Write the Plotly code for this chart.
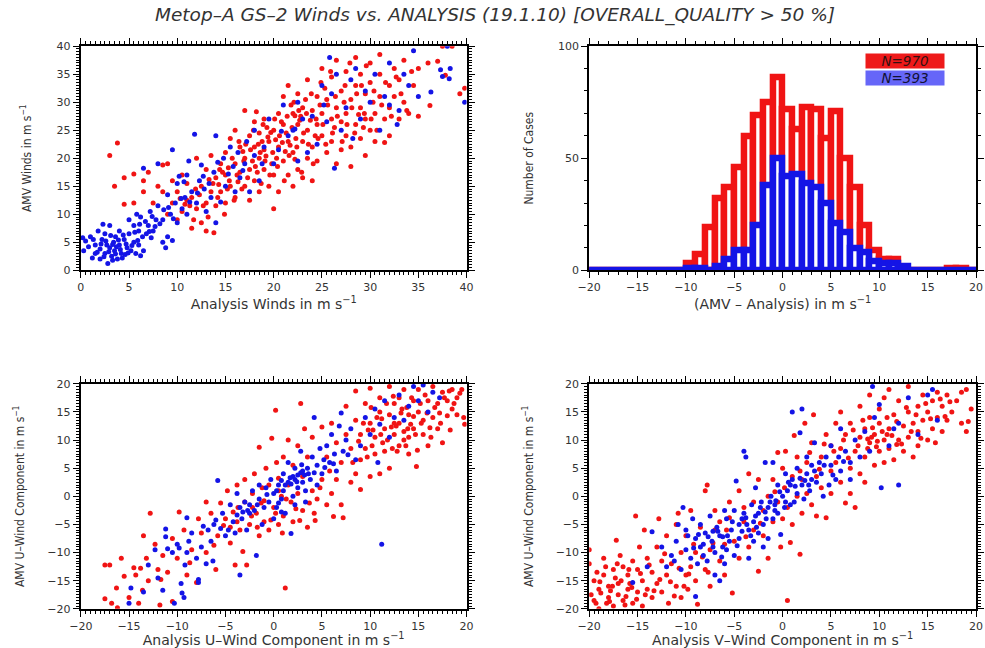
import numpy as np
import plotly.graph_objects as go

TITLE = "Metop–A GS–2 Winds vs. ANALYSIS (19.1.10) [OVERALL_QUALITY > 50 %]"

# ---------------- Panel 1: wind speed scatter ----------------
spd_blue = [(0.2,5.8),(0.3,3.5),(0.5,5.2),(1,6),(1.2,2.2),(1.5,4.5),(1.8,7),(2,3.8),(2.2,5.5),(2.5,3),(2.5,6.5),(2.8,1.2),
(3,4),(3,8),(3.2,2.5),(3.4,5),(3.5,3.5),(3.6,6),(3.8,2),(4,4.5),(4,7),(4.2,3),(4.5,5.5),(4.6,2.8),(4.8,4),(5,6.5),(5,9),
(5.2,3.5),(5.5,5),(5.5,8),(5.8,10),(6,4.5),(6,7),(6.2,9.5),(6.5,3.5),(6.5,18.2),(6.8,6.5),(7,8),(7.2,10.5),(7.5,7),(7.8,9),
(8,19),(8,11.5),(8.5,5),(8.5,9),(8.8,4),(9,13.5),(9,6),(9.3,10),(9.5,5.3),(9.5,21.5),(9.8,12),(10,15.5),(10,8.5),(10.2,16.8),
(10.5,11),(10.8,13),(11,17),(11,10),(11.2,19.5),(11.5,14),(11.8,24.3),(12,12),(12.3,16),(12.5,18.8),(12.8,14.5),(13,10.5),
(13.5,13),(13.8,17.5),(14,8.5),(14,24),(14.5,12.2),(14.8,20),(15,15),(15.5,22),(15.8,18.5),(16,14),(16.3,21),(16.5,16.5),
(17,19),(17.2,23),(17.5,14),(18,20.5),(18,25),(18.5,16),(19,22),(19.5,27),(20,19),(20.5,21.5),(21,29.5),(21.5,24),(22,25),
(22.5,19.5),(22.5,30),(23,27),(23.5,21),(24,27.5),(24.5,22.5),(25,33),(25.2,29.5),(25.5,26.5),(25.8,38),(26,31.5),(26.3,18.2),
(26.5,35),(27,25),(27.5,29),(28,34),(28.2,23.5),(28.5,36),(29,27),(29.5,32),(30,30),(30.5,35),(31,25),(31.5,31),(32,37),
(32,29.5),(32.8,26),(33,28.5),(33.5,35),(34,33),(34.5,39.2),(35,31),(36.3,31.8),(37.3,35.8),(37.5,34.6),(38,40),(38.2,34.2),
(38.3,36),(39.8,30),(1.5,3),(2,2),(2.7,4.5),(3.3,1.8),(3.7,4.2),(4.3,2.2),(5.7,3),(6.2,2.6),(2.3,8.2),(7.3,5.8),
(0.8,4.2),(1.3,5.5),(1.7,3.2),(2.1,4.7),(2.4,2.4),(2.6,5.2),(2.9,3.3),(3.1,6.2),(3.3,4.6),(3.6,2.9),(3.9,5.4),(4.1,3.7),
(4.4,6.3),(4.7,4.7),(4.9,3.1),(5.3,4.4),(5.6,6.8),(5.9,5.3),(6.1,8.2),(6.4,6),(6.7,8.7),(7.1,6.9),(7.4,9.6),(7.7,7.8),
(8.2,8.3),(8.6,10.8),(9.1,11.2),(9.6,9.2),(10.4,12.8),(10.7,15.8),(11.3,12.2),(12.1,13.8),(12.7,16.8),(13.3,15.5),
(14.2,19.3),(15.3,17.2),(16.8,17.8),(18.8,19),(20.8,24.8),(22.2,25.2)]
spd_red = [(3,20.5),(3.8,22.7),(3.5,15),(4.5,11.8),(4.5,16.5),(5.5,12),(5.5,17.2),(6.5,14),(6.5,16),(7,17.5),(7.5,12),(8,15),
(8.5,18.8),(8.5,14),(9,19),(9,10),(9.5,16),(9.5,12),(10,9),(10,14),(10.5,17),(10.5,10.5),(11,12.5),(11,15.5),(11.5,13),
(11.5,7.5),(12,20),(12,11),(12.5,8.5),(12.5,15),(13,18),(13,12),(13,7),(13.5,14),(13.5,20.5),(13.8,6.7),(14,16.5),(14,11.5),
(14.5,19),(14.5,14),(15,21),(15,17),(15,12),(15.5,23.5),(15.5,15),(16,19),(16,13),(16,25),(16.5,17.5),(16.5,22),(17,28.5),
(17,15),(17,20),(17.5,24),(17.5,18),(17.5,12.5),(18,22),(18,16),(18,26.5),(18.5,20),(18.5,14),(18.5,24.5),(19,18),(19,27),
(19,21.5),(19.5,15),(19.5,23),(20,25),(20,17),(20,11),(20.5,22),(20.5,28),(20.5,14),(21,26),(21,19.5),(21,31),(21.5,23),
(21.5,17),(21.5,33),(22,28),(22,21),(22,15),(22.5,26),(22.5,18),(22.5,31.5),(23,23),(23,29),(23,16.5),(23.5,25),(23.5,20),
(23.5,34),(24,28.5),(24,22),(24,16),(24.5,31),(24.5,26),(24.5,19.5),(25,24),(25,28),(25,36),(25.5,21),(25.5,30.5),(26,27),
(26,23),(26,34.5),(26.5,19),(26.5,29),(26.5,37.5),(27,26.5),(27,32),(27,21.5),(27.5,24),(27.5,35.5),(27.5,28),(28,30.5),
(28,22),(28,18.5),(28.5,26),(28.5,33),(28.5,38),(29,29),(29,23.5),(29,35),(29.5,27),(29.5,20.5),(29.5,31.5),(30,25),
(30,33.5),(30,37),(30.5,28),(30.5,23),(31,31),(31,35),(31,38.5),(31.5,27),(31.5,22.8),(32,33),(32,29),(32,24),(32.5,36),
(32.5,31),(33,27),(33,34),(33.5,37.5),(33.5,30),(34,28),(34.5,33),(35,36),(35,27.5),(36,37),(36.2,29.4),(37,37.3),
(37.8,34.8),(39.3,31.5),(39.8,32.5),(37.5,40),(38.5,40),(16.8,21.2),(17.8,19.5),(18.8,23),(19.3,25.5),(20.3,20),(21.3,24.5),
(22.3,23.5),(22.8,27.5),(23.3,30.5),(24.3,24),(19.8,19),(20.8,26.5),(21.8,29.5),(18.3,17.5),(16.3,15.8),(15.3,18.3),
(14.3,15.3),(13.3,16.2),(12.3,13.5),(11.3,11.5),(10.3,12.8),(26.3,25.5),(27.3,30),(28.8,27.8),(30.3,30),(29.3,25.5),
(25.3,32.5),(24.8,29.5),(23.8,26.8),(22.2,19.8),(21.2,21.2),(20.2,23.3),(19.2,20.4),(18.2,28.3),
(13.2,9.5),(13.7,15.5),(14.2,13),(14.7,17.5),(14.9,10),(15.2,14.5),(15.7,20),(15.9,12.5),(16.2,17),(16.4,23),(16.7,14.5),
(16.9,19.5),(17.3,16.5),(17.6,21.5),(17.9,25),(18.1,18.5),(18.4,22.5),(18.7,15.5),(18.9,26),(19.1,19.5),(19.4,23.8),
(19.6,17),(19.9,21),(20.1,27),(20.4,18.5),(20.6,24),(20.9,22.8),(21.1,16),(21.4,27.5),(21.6,20.5),(21.9,25.5),(22.1,30),
(22.4,22),(22.6,28.5),(22.9,17.5),(23.1,24.5),(23.4,28),(23.6,22.5),(23.9,31.5),(24.1,19),(24.4,27),(24.6,23.5),
(24.9,33.5),(25.1,26),(25.4,22.5),(25.6,29.5),(25.9,35.5),(26.1,24.5),(26.4,31),(26.6,27.5),(27.1,23),(27.4,33),(27.6,26),
(27.9,37),(28.1,29),(28.4,24.5),(28.6,31.5),(29.1,33),(29.4,28),(29.6,36.5),(30.1,27),(30.4,32),(30.7,25),(31.2,29.5),
(31.6,33.5),(32.2,27.5),(32.7,34.5),(33.2,31.5),(33.8,28.5),(34.3,35.5),(22.7,26.8),(22.2,27.6),(21.7,22.3),(19.7,24.6),
(18.6,21),(17.1,22.5),(15.4,16),(14.4,18),(12.7,11.5),(11.7,9),(11.9,14.5),(10.8,11.8)]

# ---------------- Panel 2: histogram of (AMV - Analysis) ----------------
bin_left = list(range(-20, 20))
red_counts = [0]*10 + [3,7,19,32,37,46,60,69,75,86,72,63,73,72,59,71,50,37,20,9,5,5,0,0,0,0,0,1,1,0]
blue_counts = [0]*10 + [1,1,0,2,5,9,9,20,38,50,42,43,39,37,30,21,17,10,8,4,3,3,2,0,0,0,0,0,0,0]
red_label = "N=970"
blue_label = "N=393"

# ---------------- Panel 3: U component ----------------
u_blue = [(-15,-19),(-14.8,-16.3),(-13.5,-17),(-13,-12.2),(-12.3,-9.5),(-12,-14.5),(-11.5,-16.7),(-11.2,-5.8),(-11.2,-7.2),
(-11,-9.3),(-10.5,-10),(-10.3,-19),(-10,-8.5),(-9.6,-15.5),(-9.5,-17.2),(-9.3,-18),(-9.2,-12.2),(-9,-3.8),(-9,-10),(-8.8,-8),
(-8.5,-6.5),(-8,-11),(-7.8,-14.8),(-7.8,-15.3),(-7.5,-9),(-7.3,-5.3),(-7,-12),(-6.8,-6),(-6.5,-8),(-6.3,-11.5),(-6,-4.2),
(-5.8,2.8),(-5.5,-5.7),(-5.3,-3),(-5,-7),(-4.5,-1.5),(-4.2,-4.5),(-4,-6.5),(-3.8,0.5),(-3.5,-2),(-3.5,-14),(-3.3,-4),(-3,-1),
(-2.8,-6),(-2.5,-3),(-2.2,1),(-2,-2.5),(-1.8,-10.5),(-1.5,-0.5),(-1.5,2),(-1.2,-5),(-1,-2),(-0.8,1.5),(-0.5,-1),(-0.3,3),
(0,0.5),(0,-4),(0.3,-2),(0.5,2),(0.8,-0.5),(1,4),(1,1),(1.2,-3),(1.5,2.5),(1.5,6),(1.8,-6.6),(2,3.5),(2,0),(2.2,5),(2.5,3.8),
(2.5,1.5),(2.8,8),(3,4.5),(3,2.5),(3.3,-1),(3.5,5),(3.8,3),(4,7),(4.2,14),(4.5,5.5),(4.5,2),(4.8,8.5),(5,4),(5.2,6.5),(5.5,9),
(5.8,6),(6,11),(6.3,7.5),(6.5,4.5),(6.8,12.5),(7,14.8),(7.2,8),(7.5,10),(8,12),(8.5,6.5),(9,9),(9.5,14),(10,11),(10.5,15.5),
(10.8,6),(11,12.8),(11.2,-8.5),(11.5,17),(12,10.5),(12.5,14),(13,18),(13.5,13.5),(14,16),(14.5,19.5),(15,17),(15.5,19.8),
(16,15),(16.5,18.5),(17.2,17.5),(2.2,3),(2.8,4.2),(1.8,2.2),(3.2,3.8),(0.5,-1.2),(-2.5,-1.5),(-3.2,-2.8),(0.8,2.8),
(1.2,2),(2.4,2.6),(3.6,4),(2.9,5.6),(1.7,3.3),(0.3,1),(-0.7,0.3),(-1.7,-1.5),(-2.7,-2.5),(-3.8,-3.3),(4.2,4.2),(5.3,5.1),
(6.2,5.8),(7.7,7.4),(3.3,1),(-4.7,-6),(-6.2,-5),(-9.8,-9.2),(2.2,-1.5),(0.8,-2.8)]
u_red = [(-17.5,-12.2),(-17.5,-18.2),(-17,-12.2),(-16.8,-19),(-16.3,-16.3),(-16.2,-19.8),(-15.8,-11),(-15,-18),(-14.5,-12.7),
(-14.3,-14),(-14,-19),(-13.8,-12.8),(-13.5,-7),(-13.2,-11),(-13,-15),(-12.8,-3),(-12.3,-8.5),(-12,-13),(-11.8,-19.3),
(-11.5,-10.5),(-11,-13.5),(-10.5,-7.5),(-10.5,-18.7),(-10,-11),(-9.8,-2.8),(-9.3,-6),(-9,-14),(-8.5,-9.5),(-8,-15.3),
(-7.8,-4),(-7.5,-6.5),(-7,-1),(-7,-10),(-6.5,-3),(-6,-13),(-5.8,-7),(-5.5,-1.2),(-5,-4),(-4.8,1),(-4.5,-8.3),(-4.5,-5.5),
(-4.2,-2.8),(-4,-12.2),(-3.8,2),(-3.5,-6),(-3.2,-9.8),(-3,3),(-3,-1),(-2.8,-12.2),(-2.5,-5),(-2.2,0.5),(-2,4),(-1.8,-3),
(-1.5,8.7),(-1.5,-7),(-1.2,1.5),(-1,-4.5),(-0.8,5),(-0.5,2),(-0.5,-6),(-0.2,10.3),(0,-2),(0.2,15.3),(0.3,6),(0.5,-5),
(0.5,3.2),(0.8,0),(1,7),(1,-3.5),(1.2,-16.3),(1.5,2),(1.5,10),(1.8,-1),(2,-4.5),(2,5.5),(2.5,9),(2.5,0.5),(2.8,16.5),
(3,-2.5),(3,3.5),(3.2,12),(3.5,-5.5),(3.5,7),(4,1),(4,10.5),(4.2,-3),(4.5,-0.5),(5,12.3),(5,3),(5.5,-1.5),(5.5,7),(6,0.5),
(6,13),(6.2,-3.6),(6.5,3),(6.5,9.5),(7,-1.5),(7,6),(7.2,-3.8),(7.5,11),(7.5,16),(8,2.5),(8,8.5),(8.5,4),(8.5,13.5),
(8.5,18.7),(9,1.2),(9,6.5),(9,11),(9.5,16.5),(9.5,8.5),(10,3.5),(10,13),(10,19.2),(10.5,7.5),(10.5,10.5),(11,15),(11,4),
(11,17.5),(11.5,8),(11.5,12),(12,14.5),(12,19.5),(12,5),(12.5,11),(12.5,16.5),(13,9),(13,13),(13,17.5),(13.5,11.5),
(13.5,19),(14,14.5),(14,7.5),(14,10.5),(14.5,12),(14.5,17),(14.8,5.3),(15,15),(15,19),(15.5,11),(15.5,13.5),(16,17),(16,9),
(16.5,14),(16.5,19.5),(17,12),(17,16.5),(17.5,9.5),(17.5,18.5),(18,14.3),(18,17),(18.5,19),(18.5,15.5),(19,14.5),(19,17.5),
(19.5,19),(19.8,12.8),(12.2,12.3),(13.2,14.8),(14.2,12.8),(11.8,10),(12.8,8),(13.8,15.8),(15.2,16.5),(10.2,9),(11.2,13.8),
(9.8,11.8),(12.5,13),(13.5,10),(14.5,14.2),(16.2,12.2),(17.2,14.8),(18.2,18.7),(-3.8,-4.5),(-2.2,-2),(-1,-0.8),(0.5,1),
(8.2,6),(8.8,9.8),(9.3,13),(9.7,7),(10.3,11.8),(10.7,14),(11.3,9.5),(11.7,16.5),(12.3,8.5),(12.7,12.5),(13.3,15.5),(13.7,9),
(14.3,17.5),(14.7,11),(15.3,13),(15.7,18),(16.3,10.5),(16.7,15.8),(17.3,13),(17.7,17.5),(18.3,11.8),(18.7,16.5),(19.3,18.3),
(19.7,14),(12.4,17.8),(13.9,12),(15.9,14.8),(11.1,11),(10.1,15.8),(14.9,8.2),(-2.3,-3.5),(-1.3,-1.2),(0.2,-3),(1.3,-0.5),
(2.3,-2.2),(3.7,-1.2),(4.8,1.5),(5.8,4.5),(-3.7,-2),(-5.2,-5.2),(-6.2,-8.7),(-8.7,-11.8),(-11.7,-14.8),(-13.6,-16.7),
(-15.5,-14.2),(0.9,-6.5),(2.7,-4.3),(4.3,-4.3),(-0.3,-4.2),(-1.7,-5.5)]

# ---------------- Panel 4: V component ----------------
v_blue = [(-15.5,-15.3),(-14,-12.5),(-13.5,-6.3),(-12,-12.5),(-11.5,-10.5),(-11,-8),(-10.5,-13),(-10.3,-2),(-10,-6),(-10,-9.5),
(-9.5,-11),(-9.3,-4),(-9,-7.5),(-9,-17.8),(-8.8,-12),(-8.5,-5),(-8.5,-9),(-8,-6.5),(-7.8,-11.5),(-7.5,-3.5),(-7.3,-8),
(-7,-10),(-7,-14),(-6.8,-5.5),(-6.5,-7),(-6.5,-15),(-6.2,-9),(-6,-2.5),(-6,-12),(-5.8,-4),(-5.5,-8),(-5.3,-6),(-5,-2.5),
(-5,-10.5),(-4.8,2.7),(-4.5,-5),(-4.5,-7.5),(-4,-3),(-4,8),(-3.8,7),(-3.5,-6),(-3.5,-11),(-3.2,-1.5),(-3,-4.5),(-3,-8),
(-2.8,1.5),(-2.5,-3),(-2.5,-6.5),(-2.2,-1),(-2,-5),(-2,-9),(-1.8,6),(-1.5,-2),(-1.5,-7.5),(-1.2,0),(-1,-4),(-1,6),(-0.8,-1.5),
(-0.5,2),(-0.5,-3),(-0.2,-6.8),(0,0),(0.2,-2),(0.3,4),(0.5,1),(0.8,-1.5),(1,3),(1,15),(1.2,-1),(1.5,5),(1.5,0.5),(1.8,11.3),
(2,2),(2,15.5),(2.2,-0.5),(2.5,4),(2.5,7),(2.8,1),(3,3),(3,5.5),(3.3,9.5),(3.5,2.5),(3.8,6),(4,4),(4.2,0),(4.5,7),(4.8,2),
(5,5.5),(5,9),(5.5,3),(5.8,7),(6,4.5),(6,12),(6.5,8),(7,6),(7,3),(7.5,10),(8,7),(8.5,11.5),(9,8),(9.3,19.5),(9.5,14),
(10,16.3),(10.2,1.5),(11,9),(11.5,12),(12,2),(12,13),(13,17.5),(14,11),(15,18),(15.5,19),(16,13.5),(-8.2,-8.5),(-7.2,-6.2),
(-6.2,-7.2),(-5.8,-9.5),(-4.2,-4),(-3.7,-5),(-2.8,-3.5),(-1.8,-2.8),(-0.7,-0.8),(0.6,2.5),(1.3,1.8),(2.3,2.8),
(-9.8,-7),(-9.2,-9.2),(-8.7,-6.8),(-8.2,-10.5),(-7.7,-7.2),(-7.2,-9),(-6.7,-6.2),(-6.3,-10.8),(-5.7,-7),(-5.2,-4.5),
(-4.7,-8.8),(-4.2,-6.2),(-3.8,-3.8),(-3.3,-7),(-2.7,-5.5),(-2.3,-2),(-1.7,-4),(-1.3,-1),(-0.8,-2.5),(-0.3,0.8),(0.3,-1),
(0.8,2),(1.8,3.2),(2.7,2),(3.3,4.5),(4.3,5.5),(5.2,3.8),(6.3,6.2),(-11.2,-11.5),(-12.5,-9),(-10.8,-5)]
v_red = [(-20,-9.5),(-20,-12),(-19.5,-15),(-19.5,-18.5),(-19,-16.5),(-19,-20),(-18.5,-14),(-18.5,-11),(-18,-18),(-18,-16),
(-17.5,-13),(-17.5,-19.5),(-17.2,-7.8),(-17,-15.5),(-17,-17.5),(-16.8,-10.5),(-16.5,-12.5),(-16.5,-18.5),(-16,-14),
(-16,-16.5),(-15.5,-19),(-15.5,-11.5),(-15.2,-3.5),(-15,-13),(-15,-17),(-14.8,-9),(-14.5,-15),(-14.5,-19.5),(-14.3,-6),
(-14,-11),(-14,-16.5),(-13.5,-13.5),(-13.5,-18),(-13,-9),(-13,-15.5),(-12.8,-4),(-12.5,-11.5),(-12.5,-17),(-12,-7),(-12,-14),
(-11.8,-19),(-11.5,-12),(-11,-5),(-11,-16),(-10.8,-3),(-10.5,-10),(-10.5,-18),(-10,-14),(-10,-7),(-9.8,-16.5),(-9.5,-2.5),
(-9.5,-12.5),(-9,-10),(-9,-15),(-8.8,-19.2),(-8.5,-5.5),(-8,-13),(-8,1),(-7.8,2),(-7.5,-16),(-7.5,-9.5),(-7,-2.5),(-7,-6),
(-6.5,-11.5),(-6.5,-4.5),(-6,-8.5),(-6,-14),(-5.5,-1),(-5.5,-3.8),(-5.2,-17.2),(-5,-8),(-4.5,1),(-4.5,-11),(-4,-2),(-4,-4.5),
(-3.5,4),(-3.5,-9),(-3,-1),(-3,-6),(-2.5,3),(-2.5,-13.3),(-2,-2.5),(-2,-7),(-1.5,0),(-1.5,-11),(-1,-4.5),(-1,3),(-0.5,7.8),
(-0.5,-1),(-0.2,-9),(0,-4),(0,5),(0.2,1.5),(0.5,-2),(0.5,-18.5),(0.8,-8.2),(1,3.5),(1,-5),(1.2,10.8),(1.5,0),(1.5,7),
(1.8,-10.3),(2,3),(2,-3),(2.3,13),(2.5,6),(2.5,0.5),(3,9.5),(3,-1.5),(3.2,14.5),(3.5,3.5),(3.5,-3.5),(4,7),(4,1.5),(4.5,11),
(4.5,-3.8),(5,4.5),(5,9),(5,0.5),(5.5,13),(5.5,6),(6,15),(6,2.5),(6,8.5),(6.5,11),(6.5,-1.2),(7,5),(7,13),(7,0.5),(7.5,8),
(7.5,-2),(8,10.5),(8,16),(8,4),(8.5,12),(8.5,7),(8.5,2.5),(9,9.5),(9,14),(9,18),(9.5,5.5),(9.5,11),(10,8),(10,13),(10,15.5),
(10.5,10),(10.5,6),(10.5,17.5),(11,12),(11,8.5),(11,19),(11.5,14.5),(11.5,6.5),(12,10),(12,17),(12.5,12.5),(12.5,8),(13,15),
(13,19.5),(13,10.5),(13.5,7),(13.5,13),(14,16),(14,9),(14,11.5),(14.5,18),(14.5,13.5),(15,10),(15,15),(15.5,12),(15.5,17),
(16,14),(16,18.5),(16.5,16),(16.5,11.5),(17,13.5),(17,18),(17.5,15),(18,17),(18.5,13),(18.5,18.5),(19,19),(19,11.5),
(19.5,15.5),(19.2,13.3),(-18.8,-17.2),(-17.8,-16.8),(-16.2,-17.8),(-15.8,-15.5),(-17.3,-14.5),(-18.2,-19),(-19.2,-13.5),
(9.2,10.5),(9.8,9.8),(10.8,11),(8.8,8.5),(11.8,9.2),
(-19.8,-17.5),(-19.3,-19),(-18.9,-15.2),(-18.3,-12.5),(-17.9,-18.7),(-17.6,-16),(-17.1,-12),(-16.7,-15),(-16.3,-19.3),
(-15.9,-13),(-15.6,-16.2),(-15.1,-18.3),(-14.7,-13.7),(-14.2,-17.5),(-13.8,-12.2),(-13.3,-16.8),(-12.7,-14.8),(-12.2,-10.2),
(-11.6,-15.2),(-11.2,-17.7),(-10.7,-12.8),(-10.2,-16),(-9.7,-13.8),(-9.2,-8.5),(-8.3,-10.8),(-7.7,-13.5),(5.3,8),(6.3,10),
(6.8,6.8),(7.3,11.8),(7.8,9),(8.3,13.5),(8.8,10.2),(9.3,12.2),(9.7,8.8),(10.3,11.5),(10.8,14),(11.3,10.8),(11.8,13.3),
(12.3,9.3),(12.8,15.8),(13.3,11.5),(13.8,14.5),(14.3,10.3),(14.8,16.5),(15.3,13.8),(15.8,9.5),(16.3,17.3),(16.8,14.2),
(17.3,16.8),(3.8,4.8),(4.3,9.3),(2.8,7.8),(1.8,4.5),(0.3,8),(-0.8,0.8),(-2.3,-4.8),(-3.8,-7.2),(-5.8,-6),(-7.2,-8.3)]

RED = "#f01414"
BLUE = "#1414e6"
TXT = "#333333"
WIDE = "DejaVu Sans, Verdana, sans-serif"
NARROW = "Liberation Sans Narrow, DejaVu Sans Condensed, Arial Narrow, sans-serif"
TICKFONT = dict(family=WIDE, size=11, color=TXT)
XTITLEFONT = dict(family=WIDE, size=14, color=TXT)
YTITLEFONT = dict(family=NARROW, size=12, color=TXT)
W, H = 985, 648
# observed rendering offset of the plotting area inside the page
OFF = 8
SW, SH = W - 2 * OFF, H - 2 * OFF

def px(x):
    return (x - OFF) / SW

def py(y):
    return 1 - (y - OFF) / SH

fig = go.Figure()

def scatter_pair(red, blue, xa, ya):
    rx, ry = zip(*red)
    bx, by = zip(*blue)
    fig.add_trace(go.Scatter(x=rx, y=ry, mode="markers", xaxis=xa, yaxis=ya,
                             marker=dict(color=RED, size=5, line=dict(width=0)), showlegend=False))
    fig.add_trace(go.Scatter(x=bx, y=by, mode="markers", xaxis=xa, yaxis=ya,
                             marker=dict(color=BLUE, size=5, line=dict(width=0)), showlegend=False))

scatter_pair(spd_red, spd_blue, "x", "y")
scatter_pair(u_red, u_blue, "x3", "y3")
scatter_pair(v_red, v_blue, "x4", "y4")

centers = np.array(bin_left) + 0.5
fig.add_trace(go.Bar(x=centers, y=red_counts, width=1.0, xaxis="x2", yaxis="y2",
                     marker=dict(color="white", line=dict(color=RED, width=6.5)), showlegend=False))
fig.add_trace(go.Bar(x=centers, y=blue_counts, width=1.0, xaxis="x2", yaxis="y2",
                     marker=dict(color="white", line=dict(color=BLUE, width=6.5)), showlegend=False))
edges = [bin_left[0], bin_left[-1] + 1]
fig.add_trace(go.Scatter(x=edges, y=[0, 0], mode="lines", xaxis="x2", yaxis="y2",
                         line=dict(color=BLUE, width=3.5), showlegend=False))

def axis_common(rng, dtick, minor_dtick, title, titlefont, domain, anchor, standoff):
    return dict(range=rng, dtick=dtick, tick0=rng[0], domain=domain, anchor=anchor,
                showgrid=False, zeroline=False, showline=True, linecolor="black", linewidth=2,
                mirror="allticks", ticks="outside", ticklen=6, tickwidth=1.3, tickcolor="black",
                minor=dict(dtick=minor_dtick, tick0=rng[0], ticks="outside", ticklen=3, tickwidth=1, tickcolor="black"),
                tickfont=TICKFONT, title=dict(text=title, font=titlefont, standoff=standoff))

sup = "m s<sup>−1</sup>"
lay = dict(
    width=W, height=H, autosize=False, margin=dict(l=0, r=0, t=0, b=0, pad=0),
    paper_bgcolor="white", plot_bgcolor="white", barmode="overlay", bargap=0,
    xaxis=axis_common([0, 40], 5, 0.5, "Analysis Winds in " + sup, XTITLEFONT, [px(77), px(464)], "y", 0),
    yaxis=axis_common([0, 40], 5, 0.5, "AMV Winds in " + sup, YTITLEFONT, [py(271), py(48)], "x", 22),
    xaxis2=axis_common([-20, 20], 5, 1, "(AMV – Analysis) in " + sup, XTITLEFONT, [px(587), px(975)], "y2", 0),
    yaxis2=axis_common([0, 100], 50, 10, "Number of Cases", YTITLEFONT, [py(271), py(48)], "x2", 22),
    xaxis3=axis_common([-20, 20], 5, 0.5, "Analysis U–Wind Component in " + sup, XTITLEFONT, [px(77), px(464)], "y3", 0),
    yaxis3=axis_common([-20, 20], 5, 0.5, "AMV U–Wind Component in " + sup, YTITLEFONT, [py(608), py(384)], "x3", 20),
    xaxis4=axis_common([-20, 20], 5, 0.5, "Analysis V–Wind Component in " + sup, XTITLEFONT, [px(587), px(975)], "y4", 0),
    yaxis4=axis_common([-20, 20], 5, 0.5, "AMV U–Wind Component in " + sup, YTITLEFONT, [py(608), py(384)], "x4", 20),
)
fig.update_layout(**lay)

fig.add_annotation(text="<i>" + TITLE + "</i>", xref="paper", yref="paper", x=px(492), y=py(17),
                   xanchor="center", yanchor="middle",
                   showarrow=False, font=dict(family=WIDE, size=18.5, color=TXT))
fig.add_annotation(text="<i>" + red_label + "</i>", xref="paper", yref="paper", x=px(904), y=py(63),
                   xanchor="center", yanchor="middle",
                   showarrow=False, width=78, height=14, bgcolor="#ee1a1a", borderpad=0,
                   font=dict(family=WIDE, size=13.5, color="#331111"))
fig.add_annotation(text="<i>" + blue_label + "</i>", xref="paper", yref="paper", x=px(904), y=py(80),
                   xanchor="center", yanchor="middle",
                   showarrow=False, width=78, height=14, bgcolor="#6666f8", borderpad=0,
                   font=dict(family=WIDE, size=13.5, color="#111133"))

fig.write_html("out.html", config={"displayModeBar": False, "responsive": False},
               post_script="document.body.style.margin='0';document.body.style.overflow='hidden';")
